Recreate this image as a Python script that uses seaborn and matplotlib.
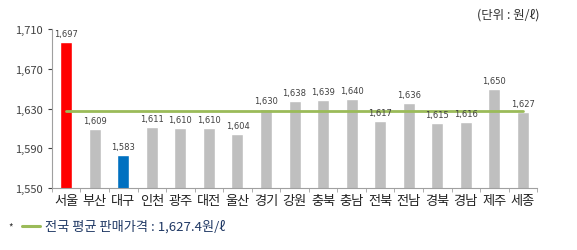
import matplotlib
matplotlib.use("Agg")
import matplotlib.pyplot as plt
import seaborn as sns
import numpy as np
from matplotlib.lines import Line2D
from matplotlib.ticker import FuncFormatter, FixedLocator

regions = ["서울", "부산", "대구", "인천", "광주", "대전", "울산", "경기", "강원",
           "충북", "충남", "전북", "전남", "경북", "경남", "제주", "세종"]
prices = [1697, 1609, 1583, 1611, 1610, 1610, 1604, 1630, 1638,
          1639, 1640, 1617, 1636, 1615, 1616, 1650, 1627]
national_avg = 1627.4
yticks = [1550, 1590, 1630, 1670, 1710]

sns.set_style("white")
plt.rcParams['font.family'] = ['Noto Sans CJK KR', 'DejaVu Sans']

colors = {r: "#BFBFBF" for r in regions}
colors["서울"] = "#FF0000"
colors["대구"] = "#0070C0"

fig = plt.figure(figsize=(5.77, 2.51), dpi=100)
ax = fig.add_axes([0.090, 0.247, 0.841, 0.633])

sns.barplot(x=regions, y=prices, hue=regions, palette=colors, legend=False,
            width=0.42, ax=ax, saturation=1)

ax.plot(range(len(regions)), [national_avg] * len(regions), color="#9BBB59", lw=2, zorder=3)

for i, v in enumerate(prices):
    ax.text(i, v + 4, f"{v:,}", ha="center", va="bottom", fontsize=6, color="#404040",
            family=['DejaVu Sans'])

ax.set_ylim(1550, 1710)
ax.set_xlim(-0.5, len(regions) - 0.5)
ax.set_yticks(yticks)
ax.yaxis.set_major_formatter(FuncFormatter(lambda v, p: f"{int(v):,}"))
ax.tick_params(axis="y", labelsize=8, length=3, direction="out", left=True, colors="#404040")
ax.tick_params(axis="x", labelsize=9.5, length=0, pad=4, colors="#222222")
ax.xaxis.set_minor_locator(FixedLocator(np.arange(-0.5, len(regions), 1)))
ax.tick_params(axis="x", which="minor", length=3, bottom=True, color="#A0A0A0")
for lab in ax.get_yticklabels():
    lab.set_color("#404040")
ax.set_xlabel("")
ax.set_ylabel("")
for s in ["top", "right"]:
    ax.spines[s].set_visible(False)
for s in ["left", "bottom"]:
    ax.spines[s].set_color("#A0A0A0")
    ax.spines[s].set_linewidth(0.8)

fig.text(0.935, 0.94, "(단위 : 원/ℓ)", ha="right", va="center", fontsize=9, color="#333333")

fig.text(0.015, 0.095, "*", ha="left", va="center", fontsize=7, color="#333333")
fig.add_artist(Line2D([0.038, 0.07], [0.095, 0.095], color="#9BBB59", lw=2.2,
                      transform=fig.transFigure))
fig.text(0.078, 0.095, f"전국 평균 판매가격 : {national_avg:,.1f}원/ℓ", ha="left", va="center",
         fontsize=9.5, color="#1F3864")

fig.savefig("out.png", dpi=100)
